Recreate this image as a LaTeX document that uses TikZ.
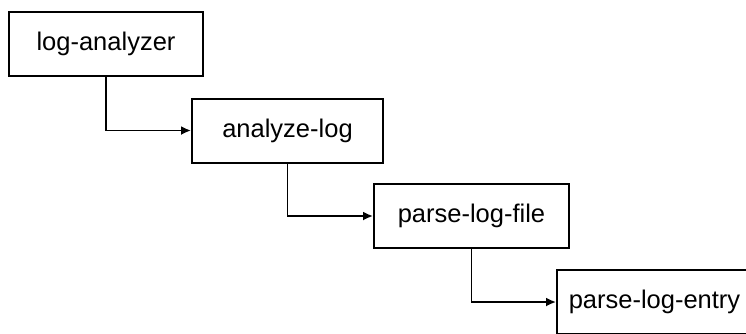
\documentclass[tikz,border=0pt]{standalone}
\usepackage{fontspec}
\setmainfont{Liberation Sans}
\usetikzlibrary{arrows.meta}
\begin{document}
\begin{tikzpicture}[x=1pt,y=-1pt,
  fnbox/.style={draw=black,line width=2pt,rectangle,minimum width=194pt,minimum height=64pt,inner sep=0pt,font=\fontsize{25.5}{30}\selectfont},
  link/.style={line width=1.8pt,-{Latex[length=10pt,width=9pt]}}]
\useasboundingbox (0,0) rectangle (746,333);
\clip (0,0) rectangle (746,333);
\node[fnbox] (a) at (106,44) {log-analyzer};
\node[fnbox,minimum width=191pt] (b) at (287.5,130.5) {analyze-log};
\node[fnbox,minimum width=195pt] (c) at (471.5,216) {parse-log-file};
\node[fnbox,minimum width=195pt] (d) at (654.5,302) {parse-log-entry};
\draw[link] (a.south) |- (b.west);
\draw[link] (b.south) |- (c.west);
\draw[link] (c.south) |- (d.west);
\end{tikzpicture}
\end{document}
